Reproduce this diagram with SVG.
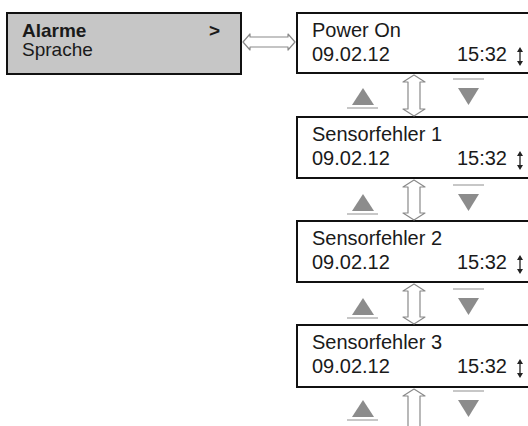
<svg xmlns="http://www.w3.org/2000/svg" width="528" height="426" viewBox="0 0 528 426">
<defs>
<style>
.t{font-family:"Liberation Sans",Arial,sans-serif;font-size:20px;fill:#1a1a1a}
.tl{font-family:"Liberation Sans",Arial,sans-serif;font-size:19px;fill:#1a1a1a}
.b{font-weight:bold}
.box{fill:#fff;stroke:#111;stroke-width:2}
.menu{fill:#c6c6c6;stroke:#111;stroke-width:2}
.dbl{fill:#fff;stroke:#8a8a8a;stroke-width:1.2;stroke-linejoin:round}
.tri{fill:#8c8c8c}
.ln{stroke:#b4b4b4;stroke-width:1.5}
.ic{fill:none;stroke:#222;stroke-width:1.3}
.ich{fill:#222}
</style>
<g id="up">
<path class="tri" d="M10 0 L21 17 L-1 17 Z"/>
<line class="ln" x1="-6" y1="20" x2="25" y2="20"/>
</g>
<g id="down">
<path class="tri" d="M0 0 L21 0 L10.5 17 Z"/>
<line class="ln" x1="-5" y1="-9" x2="26" y2="-9"/>
</g>
<g id="updn">
<path class="ic" d="M0 3 V16"/>
<path class="ich" d="M0 0 L3 5 L-3 5 Z M0 19 L3 14 L-3 14 Z"/>
</g>
</defs>

<g id="menu">
<rect class="menu" x="7" y="13" width="234" height="61"/>
<text class="tl b" x="22" y="37">Alarme</text>
<text class="tl b" x="209" y="37">&gt;</text>
<text class="tl" x="22" y="56">Sprache</text>
</g>

<g id="power-on">
<rect class="box" x="297" y="13" width="240" height="60"/>
<text class="t" x="312" y="37">Power On</text>
<text class="t" x="312" y="61">09.02.12</text>
<text class="t" x="507" y="61" text-anchor="end">15:32</text>
<use href="#updn" x="520" y="47"/>
</g>

<g id="sensorfehler-1">
<rect class="box" x="297" y="117" width="240" height="61"/>
<text class="t" x="312" y="141">Sensorfehler 1</text>
<text class="t" x="312" y="165">09.02.12</text>
<text class="t" x="507" y="165" text-anchor="end">15:32</text>
<use href="#updn" x="520" y="151"/>
</g>

<g id="sensorfehler-2">
<rect class="box" x="297" y="221" width="240" height="61"/>
<text class="t" x="312" y="245">Sensorfehler 2</text>
<text class="t" x="312" y="269">09.02.12</text>
<text class="t" x="507" y="269" text-anchor="end">15:32</text>
<use href="#updn" x="520" y="255"/>
</g>

<g id="sensorfehler-3">
<rect class="box" x="297" y="325" width="240" height="62"/>
<text class="t" x="312" y="349">Sensorfehler 3</text>
<text class="t" x="312" y="373">09.02.12</text>
<text class="t" x="507" y="373" text-anchor="end">15:32</text>
<use href="#updn" x="520" y="359"/>
</g>

<g id="nav-keys">
<use href="#up" x="353" y="88"/>
<use href="#down" x="458" y="88"/>
<use href="#up" x="353" y="194"/>
<use href="#down" x="458" y="194"/>
<use href="#up" x="353" y="298"/>
<use href="#down" x="458" y="298"/>
<use href="#up" x="353" y="400"/>
<use href="#down" x="458" y="400"/>
</g>

<g id="connectors">
<path class="dbl" d="M243 42 L250 34 L250 37 L288 37 L288 34 L295 42 L288 50 L288 47 L250 47 L250 50 Z"/>
<path class="dbl" d="M414 75 L425 82 L420 82 L420 109 L425 109 L414 116 L403 109 L408 109 L408 82 L403 82 Z"/>
<path class="dbl" d="M414 180 L425 187 L420 187 L420 213 L425 213 L414 220 L403 213 L408 213 L408 187 L403 187 Z"/>
<path class="dbl" d="M414 284 L425 291 L420 291 L420 317 L425 317 L414 324 L403 317 L408 317 L408 291 L403 291 Z"/>
<path class="dbl" d="M414 389 L425 396 L420 396 L420 426"/>
<path class="dbl" d="M408 426 L408 396 L403 396 L414 389"/>
</g>
</svg>
